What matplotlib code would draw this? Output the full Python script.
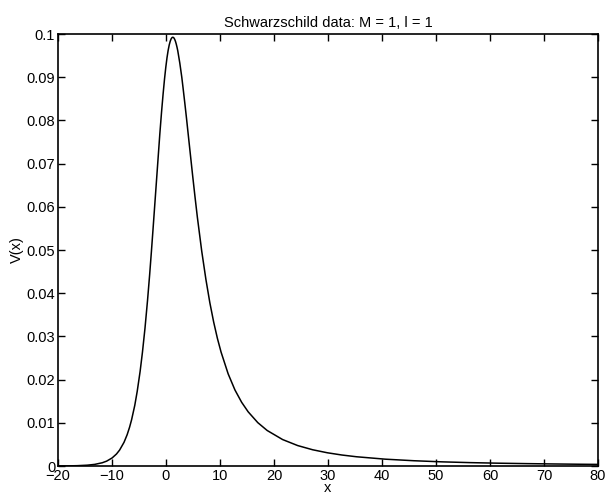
import numpy as np
import matplotlib
matplotlib.use("Agg")
import matplotlib.pyplot as plt

plt.rcParams['font.family'] = ['Liberation Sans', 'DejaVu Sans']

# potential V(x), values
x_vals = [-20.0, -17.81, -16.42, -14.59, -13.20, -11.81, -11.00, -9.98, -9.17, -8.59,
          -7.77, -7.19, -6.74, -6.37, -5.78, -5.33, -4.79, -4.36, -3.89, -3.42,
          -3.03, -2.70, -2.41, -1.91, -1.49, -1.14, -0.82, -0.53, -0.27, -0.03,
          0.19, 0.40, 0.60, 0.79, 0.97, 1.14, 1.30, 1.46, 1.61, 1.76,
          1.90, 2.04, 2.18, 2.56, 2.93, 3.15, 3.48, 3.80, 4.00, 4.49,
          4.95, 5.39, 5.81, 6.62, 7.39, 8.12, 8.83, 9.52, 10.20, 11.51,
          12.77, 14.01, 15.22, 17.00, 18.74, 21.60, 24.39, 27.16, 29.89, 32.59,
          35.28, 40.61, 45.89, 51.14, 56.36, 61.55, 66.74, 71.90, 77.05, 80.00]
v_vals = [0.0000125, 0.0000375, 0.000075, 0.000187, 0.000374, 0.000748, 0.001119, 0.00186, 0.002778, 0.003688,
          0.005487, 0.007256, 0.008995, 0.010706, 0.014042, 0.01727, 0.021913, 0.026328, 0.03188, 0.038314,
          0.04423, 0.049657, 0.05464, 0.0634, 0.07076, 0.07689, 0.08198, 0.08618, 0.0896, 0.09236,
          0.09453, 0.09622, 0.09747, 0.09835, 0.09892, 0.09920, 0.09925, 0.09910, 0.09877, 0.09828,
          0.09767, 0.09695, 0.09613, 0.09326, 0.08996, 0.08764, 0.08407, 0.08049, 0.078125, 0.07241,
          0.06706, 0.06212, 0.0576, 0.04972, 0.04321, 0.03781, 0.03332, 0.02955, 0.02637, 0.02134,
          0.0176, 0.01475, 0.01254, 0.01004, 0.00822, 0.00612, 0.00473, 0.00376, 0.00306, 0.00254,
          0.00214, 0.00158, 0.00122, 0.00096, 0.00078, 0.00065, 0.00055, 0.00047, 0.00040, 0.00037]

xticks = list(range(-20, 81, 10))
yticks = [0, 0.01, 0.02, 0.03, 0.04, 0.05, 0.06, 0.07, 0.08, 0.09, 0.1]
ytick_labels = ["0", "0.01", "0.02", "0.03", "0.04", "0.05", "0.06", "0.07", "0.08", "0.09", "0.1"]

fig = plt.figure(figsize=(6.15, 5.0), dpi=100)
ax = fig.add_axes([0.0943, 0.068, 0.878, 0.864])

ax.plot(x_vals, v_vals, color='black', lw=1.1)

ax.set_xlim(-20, 80)
ax.set_ylim(0, 0.1)
ax.set_xticks(xticks)
ax.set_xticklabels([str(t) if t >= 0 else "\u2212" + str(-t) for t in xticks])
ax.set_yticks(yticks)
ax.set_yticklabels(ytick_labels)
ax.tick_params(direction='in', top=True, right=True, length=5, width=1,
               labelsize=10.5, pad=2)
for s in ax.spines.values():
    s.set_linewidth(1.2)

ax.set_title("Schwarzschild data: M = 1, l = 1", fontsize=10.5, pad=5)
ax.set_xlabel("x", fontsize=10.5, labelpad=-1)
ax.set_ylabel("V(x)", fontsize=10.5, labelpad=2)

fig.savefig("out.png", dpi=100)
